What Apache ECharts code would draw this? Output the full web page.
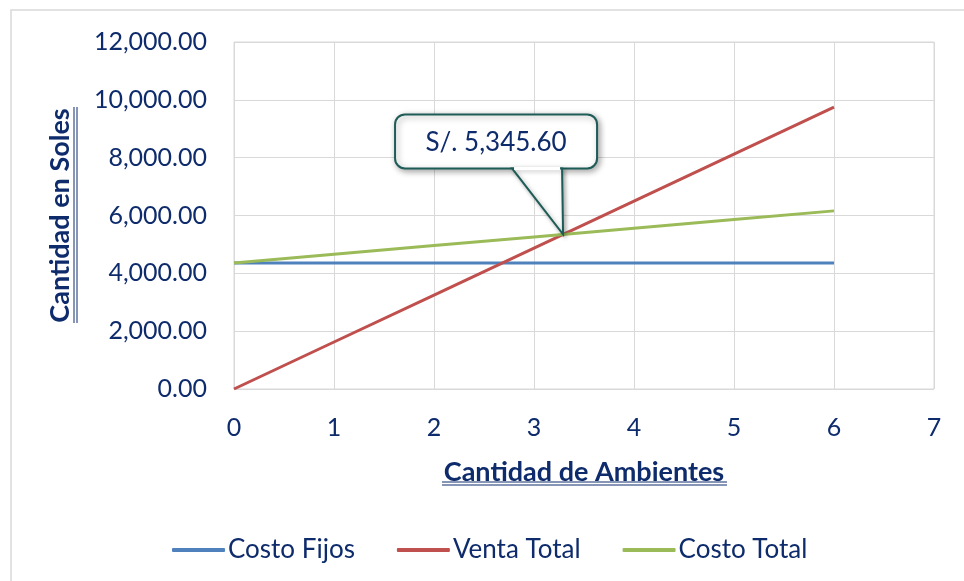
<!DOCTYPE html>
<html>
<head>
<meta charset="utf-8">
<script src="https://cdn.jsdelivr.net/npm/echarts@6/dist/echarts.min.js"></script>
<style>
  html, body { margin: 0; padding: 0; background: #fff; }
  #chart { width: 964px; height: 581px; }
</style>
</head>
<body>
<div id="chart"></div>
<script>
// datos
var ambientes = [0, 1, 2, 3, 4, 5, 6];
var costoFijos = [4360, 4360, 4360, 4360, 4360, 4360, 4360];
var ventaTotal = [0, 1625, 3250, 4875, 6500, 8125, 9750];
var costoTotal = [4360, 4660, 4960, 5260, 5560, 5860, 6160];
var puntoEquilibrio = "S/. 5,345.60";

var azul = "#0e2b6c";
var fuente = "Lato";

function pares(ys) {
  return ambientes.map(function (x, i) { return [x, ys[i]]; });
}

var chart = echarts.init(document.getElementById("chart"));

var option = {
  backgroundColor: "#fff",
  textStyle: { fontFamily: fuente },
  grid: { left: 234, right: 30, top: 42, bottom: 192, show: true, borderColor: "#d9d9d9", borderWidth: 1 },
  xAxis: {
    type: "value", min: 0, max: 7, interval: 1,
    name: "Cantidad de Ambientes", nameLocation: "middle", nameGap: 70,
    nameTextStyle: { color: azul, fontSize: 27, fontWeight: "bold", fontFamily: fuente },
    axisLine: { show: false }, axisTick: { show: false },
    axisLabel: { color: azul, fontSize: 25, margin: 26, fontFamily: fuente },
    splitLine: { lineStyle: { color: "#d9d9d9", width: 1 } }
  },
  yAxis: {
    type: "value", min: 0, max: 12000, interval: 2000,
    name: "Cantidad en Soles", nameLocation: "middle", nameGap: 160,
    nameTextStyle: { color: azul, fontSize: 27, fontWeight: "bold", fontFamily: fuente },
    axisLine: { show: false }, axisTick: { show: false },
    axisLabel: {
      color: azul, fontSize: 25, margin: 27, fontFamily: fuente,
      formatter: function (v) {
        return v.toLocaleString("en-US", { minimumFractionDigits: 2, maximumFractionDigits: 2 });
      }
    },
    splitLine: { lineStyle: { color: "#d9d9d9", width: 1 } }
  },
  legend: {
    top: 532, left: 167, itemGap: 42, itemWidth: 53, itemHeight: 4,
    icon: "roundRect",
    textStyle: { color: azul, fontSize: 26, fontFamily: fuente, padding: [0, 0, 0, -2] },
    data: ["Costo Fijos", "Venta Total", "Costo Total"]
  },
  series: [
    { name: "Costo Fijos", type: "line", data: pares(costoFijos), showSymbol: false, symbol: "none",
      lineStyle: { color: "#4f81bd", width: 3 }, itemStyle: { color: "#4f81bd" } },
    { name: "Venta Total", type: "line", data: pares(ventaTotal), showSymbol: false, symbol: "none",
      lineStyle: { color: "#c0504d", width: 3 }, itemStyle: { color: "#c0504d" } },
    { name: "Costo Total", type: "line", data: pares(costoTotal), showSymbol: false, symbol: "none",
      lineStyle: { color: "#9bbb59", width: 3 }, itemStyle: { color: "#9bbb59" } }
  ]
};
chart.setOption(option);

// punto de equilibrio: cruce de Venta Total y Costo Total
var ix = 0, iy = 0;
for (var i = 0; i < ambientes.length - 1; i++) {
  var d0 = ventaTotal[i] - costoTotal[i], d1 = ventaTotal[i + 1] - costoTotal[i + 1];
  if (d0 <= 0 && d1 > 0) {
    var t = -d0 / (d1 - d0);
    ix = ambientes[i] + t * (ambientes[i + 1] - ambientes[i]);
    iy = ventaTotal[i] + t * (ventaTotal[i + 1] - ventaTotal[i]);
  }
}
var p = chart.convertToPixel({ gridIndex: 0 }, [ix, iy]);
var tx = p[0], ty = p[1];
var L = tx - 168, R = tx + 34, T = ty - 120, B = ty - 66;
var globo = { stroke: "#1d5c57", lineWidth: 2 };

chart.setOption({
  graphic: [
    { type: "rect", shape: { x: 11, y: 10, width: 1000, height: 700 }, silent: true, z: -10,
      style: { fill: "none", stroke: "#d9d9d9", lineWidth: 1.5 } },
    // sombra + caja
    { type: "rect", shape: { x: L, y: T, width: R - L, height: B - T, r: 10 }, z: 100,
      style: { fill: "#fff", stroke: globo.stroke, lineWidth: globo.lineWidth,
        shadowBlur: 6, shadowColor: "rgba(0,0,0,0.35)", shadowOffsetX: 2, shadowOffsetY: 2 } },
    { type: "polygon", shape: { points: [[tx - 51, B], [tx, ty], [tx - 1, B]] }, z: 100,
      style: { fill: "#fff", stroke: globo.stroke, lineWidth: globo.lineWidth,
        shadowBlur: 4, shadowColor: "rgba(0,0,0,0.3)", shadowOffsetX: 2, shadowOffsetY: 2 } },
    { type: "line", shape: { x1: tx - 49, y1: B, x2: tx - 3, y2: B }, z: 101,
      style: { stroke: "#fff", lineWidth: 3 } },
    { type: "text", x: (L + R) / 2, y: T + 28, z: 102,
      style: { text: puntoEquilibrio, fill: azul, font: "26px " + fuente, align: "center", verticalAlign: "middle" } },
    // subrayado doble de los titulos de ejes
    { type: "line", shape: { x1: 74, y1: 107, x2: 74, y2: 323 }, style: { stroke: azul, lineWidth: 1 } },
    { type: "line", shape: { x1: 77, y1: 107, x2: 77, y2: 323 }, style: { stroke: azul, lineWidth: 1 } },
    { type: "line", shape: { x1: 442, y1: 482, x2: 727, y2: 482 }, style: { stroke: azul, lineWidth: 1 } },
    { type: "line", shape: { x1: 442, y1: 485, x2: 727, y2: 485 }, style: { stroke: azul, lineWidth: 1 } }
  ]
});
</script>
</body>
</html>
